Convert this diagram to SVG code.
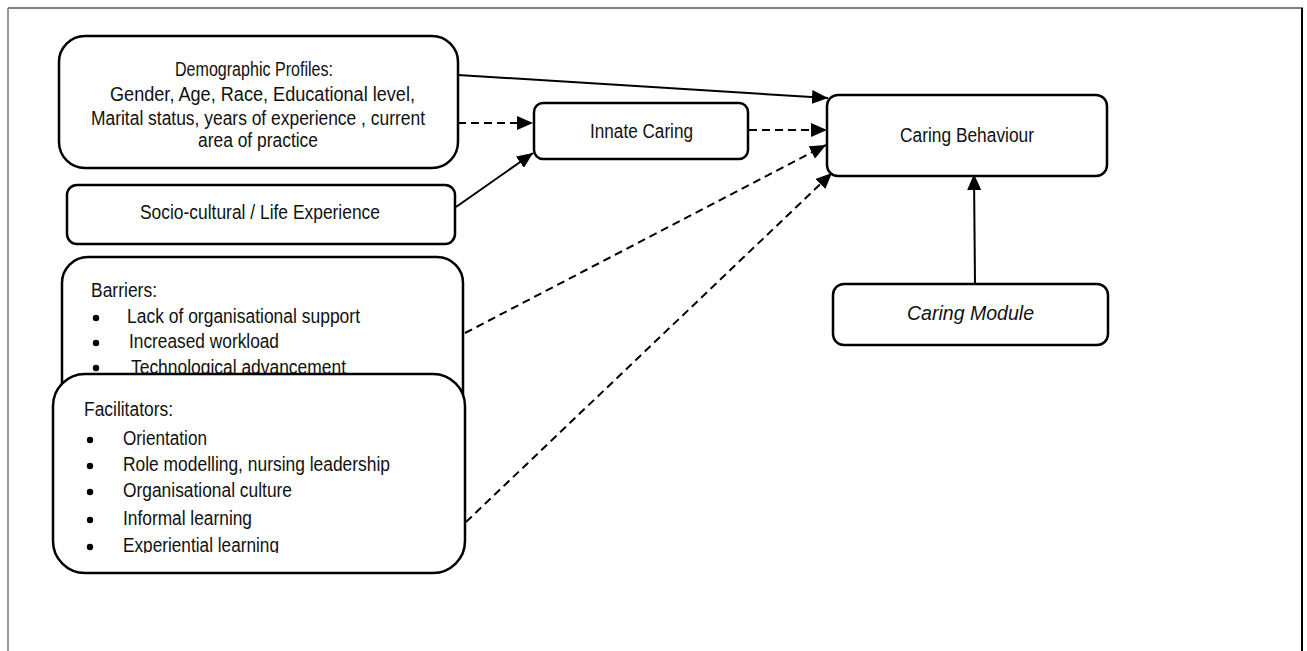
<svg xmlns="http://www.w3.org/2000/svg" width="1307" height="651" viewBox="0 0 1307 651">
<style>
.box{fill:#fff;stroke:#000;stroke-width:2.5}
.t{font-family:"Liberation Sans",Arial,sans-serif;font-size:20px;fill:#111}
.c{text-anchor:middle}
.ln{stroke:#000;stroke-width:2;fill:none}
.dash{stroke-dasharray:8 5}
</style>
<defs>
<marker id="ah" markerUnits="userSpaceOnUse" markerWidth="17" markerHeight="14" refX="16" refY="7" orient="auto">
<path d="M0,0 L16,7 L0,14 Z" fill="#000"/>
</marker>
<clipPath id="clipF"><rect x="53" y="374" width="412" height="179"/></clipPath>
<clipPath id="clipB"><rect x="62" y="257" width="402" height="117"/></clipPath>
</defs>
<rect x="0" y="0" width="1307" height="651" fill="#fff"/>
<g id="frame">
<line x1="8" y1="8" x2="1303" y2="8" stroke="#555" stroke-width="1.5"/>
<line x1="8" y1="8" x2="8" y2="651" stroke="#777" stroke-width="1.5"/>
<line x1="1302" y1="8" x2="1302" y2="651" stroke="#000" stroke-width="2"/>
</g>
<g id="connectors">
<line class="ln" x1="458" y1="75" x2="828" y2="98" marker-end="url(#ah)"/>
<line class="ln dash" x1="458" y1="123" x2="533" y2="123" marker-end="url(#ah)"/>
<line class="ln" x1="456" y1="207" x2="533" y2="153" marker-end="url(#ah)"/>
<line class="ln dash" x1="749" y1="130" x2="827" y2="130" marker-end="url(#ah)"/>
<line class="ln dash" x1="465" y1="333" x2="826" y2="145" marker-end="url(#ah)"/>
<line class="ln dash" x1="466" y1="522" x2="832" y2="173" marker-end="url(#ah)"/>
<line class="ln" x1="975" y1="284" x2="974" y2="174" marker-end="url(#ah)"/>
</g>
<g id="demographic">
<rect class="box" x="59" y="36" width="399" height="132" rx="26"/>
<text class="t" x="175" y="76" textLength="158" lengthAdjust="spacingAndGlyphs">Demographic Profiles:</text>
<text class="t" x="110" y="101" textLength="305" lengthAdjust="spacingAndGlyphs">Gender, Age, Race, Educational level,</text>
<text class="t" x="91" y="125" textLength="334" lengthAdjust="spacingAndGlyphs">Marital status, years of experience , current</text>
<text class="t" x="198" y="147" textLength="120" lengthAdjust="spacingAndGlyphs">area of practice</text>
</g>
<g id="sociocultural">
<rect class="box" x="67" y="185" width="388" height="59" rx="10"/>
<text class="t" x="140" y="219" textLength="240" lengthAdjust="spacingAndGlyphs">Socio-cultural / Life Experience</text>
</g>
<g id="innate">
<rect class="box" x="534" y="103" width="214" height="56" rx="9"/>
<text class="t" x="590" y="138" textLength="103" lengthAdjust="spacingAndGlyphs">Innate Caring</text>
</g>
<g id="caringBehaviour">
<rect class="box" x="827" y="95" width="280" height="81" rx="11"/>
<text class="t" x="900" y="142" textLength="134" lengthAdjust="spacingAndGlyphs">Caring Behaviour</text>
</g>
<g id="caringModule">
<rect class="box" x="833" y="284" width="275" height="61" rx="11"/>
<text class="t" x="907" y="320" font-style="italic" textLength="127" lengthAdjust="spacingAndGlyphs">Caring Module</text>
</g>
<g id="barriers">
<rect class="box" x="62" y="257" width="401" height="230" rx="26"/>
<g clip-path="url(#clipB)">
<text class="t" x="91" y="297" textLength="66" lengthAdjust="spacingAndGlyphs">Barriers:</text>
<circle cx="96" cy="318" r="3.2"/>
<text class="t" x="127" y="323" textLength="233" lengthAdjust="spacingAndGlyphs">Lack of organisational support</text>
<circle cx="96" cy="343" r="3.2"/>
<text class="t" x="129" y="348" textLength="150" lengthAdjust="spacingAndGlyphs">Increased workload</text>
<circle cx="96" cy="368" r="3.2"/>
<text class="t" x="131" y="374" textLength="215" lengthAdjust="spacingAndGlyphs">Technological advancement</text>
</g>
</g>
<g id="facilitators">
<rect class="box" x="53" y="374" width="412" height="199" rx="32"/>
<g clip-path="url(#clipF)">
<text class="t" x="84" y="416" textLength="89" lengthAdjust="spacingAndGlyphs">Facilitators:</text>
<circle cx="90" cy="440" r="3.2"/>
<text class="t" x="123" y="445" textLength="84" lengthAdjust="spacingAndGlyphs">Orientation</text>
<circle cx="90" cy="466" r="3.2"/>
<text class="t" x="123" y="471" textLength="267" lengthAdjust="spacingAndGlyphs">Role modelling, nursing leadership</text>
<circle cx="90" cy="492" r="3.2"/>
<text class="t" x="123" y="497" textLength="169" lengthAdjust="spacingAndGlyphs">Organisational culture</text>
<circle cx="90" cy="520" r="3.2"/>
<text class="t" x="123" y="525" textLength="129" lengthAdjust="spacingAndGlyphs">Informal learning</text>
<circle cx="90" cy="547" r="3.2"/>
<text class="t" x="123" y="552" textLength="156" lengthAdjust="spacingAndGlyphs">Experiential learning</text>
</g>
</g>
</svg>
